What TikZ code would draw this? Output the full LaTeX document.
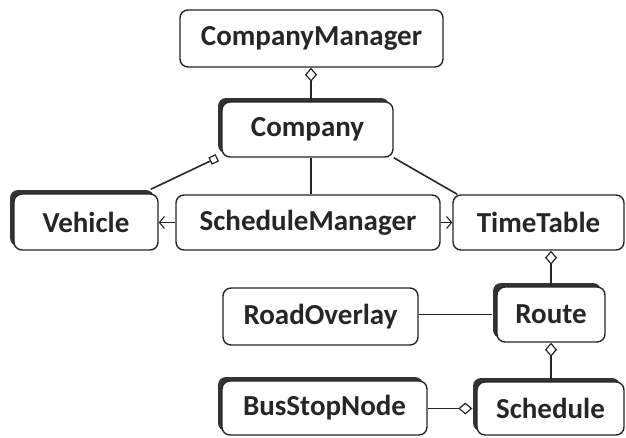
\documentclass[tikz,border=0pt]{standalone}
\usepackage{fontspec}
\setmainfont{Carlito}
\usetikzlibrary{arrows.meta,shadows,calc}
\tikzset{
  dia/.tip={Diamond[open,length=14pt,width=12pt,line width=1.2pt]},
  sq/.tip={Square[open,length=8pt,width=8pt,line width=1.2pt]},
  barb/.tip={Straight Barb[length=5pt,width=12pt,line width=1.1pt]}}
\begin{document}
\begin{tikzpicture}[x=1pt,y=-1pt,
  box/.style={draw=black!85, line width=1.4pt, rounded corners=8pt, fill=white, inner sep=0pt,
    font=\fontsize{29}{34}\selectfont\bfseries, text=black!85},
  box3d/.style={box, general shadow={fill=black!80, shadow xshift=-4pt, shadow yshift=4pt}},
  conn/.style={draw=black!85, line width=1.6pt}]
\useasboundingbox (0,0) rectangle (626,437);
\node[box, minimum width=263pt, minimum height=57pt] (cm) at (311.5,38.5) {CompanyManager};
\node[box3d, minimum width=171pt, minimum height=55pt] (co) at (307.5,129.5) {Company};
\node[box3d, minimum width=144pt, minimum height=56pt] (ve) at (86,222) {Vehicle};
\node[box, minimum width=264pt, minimum height=55pt] (sm) at (308,222.5) {ScheduleManager};
\node[box, minimum width=171pt, minimum height=55pt] (tt) at (538.5,222.5) {TimeTable};
\node[box, minimum width=195pt, minimum height=57pt] (rd) at (320.5,316.5) {RoadOverlay};
\node[box3d, minimum width=108pt, minimum height=55pt] (ro) at (551,314.5) {Route};
\node[box3d, minimum width=205pt, minimum height=54pt] (bs) at (324.5,408) {BusStopNode};
\node[box3d, minimum width=147pt, minimum height=53pt] (sc) at (550.5,408.5) {Schedule};
\coordinate (coT) at (311,102);
\draw[conn, {dia}-] (cm.south -| coT) -- (coT);
\draw[conn, -{sq}] ([xshift=-8pt,yshift=4pt]ve.north east) -- ([xshift=-4pt]co.south west);
\draw[conn] (co.south -| coT) -- (sm.north -| coT);
\draw[conn] (co.south east) -- ([xshift=5pt]tt.north west);
\draw[conn, -{barb}] (sm.west) -- (sm.west -| ve.east);
\draw[conn, -{barb}] (sm.east) -- (sm.east -| tt.west);
\draw[conn, {dia}-] (tt.south -| ro.north) -- (ro.north);
\draw[conn] ([xshift=-4pt]ro.west) -- (ro.west -| rd.east);
\draw[conn, {dia}-] (ro.south) -- (ro.south |- sc.north);
\draw[conn, {dia}-] ([xshift=-4pt]sc.west) -- (sc.west -| bs.east);
\end{tikzpicture}
\end{document}
